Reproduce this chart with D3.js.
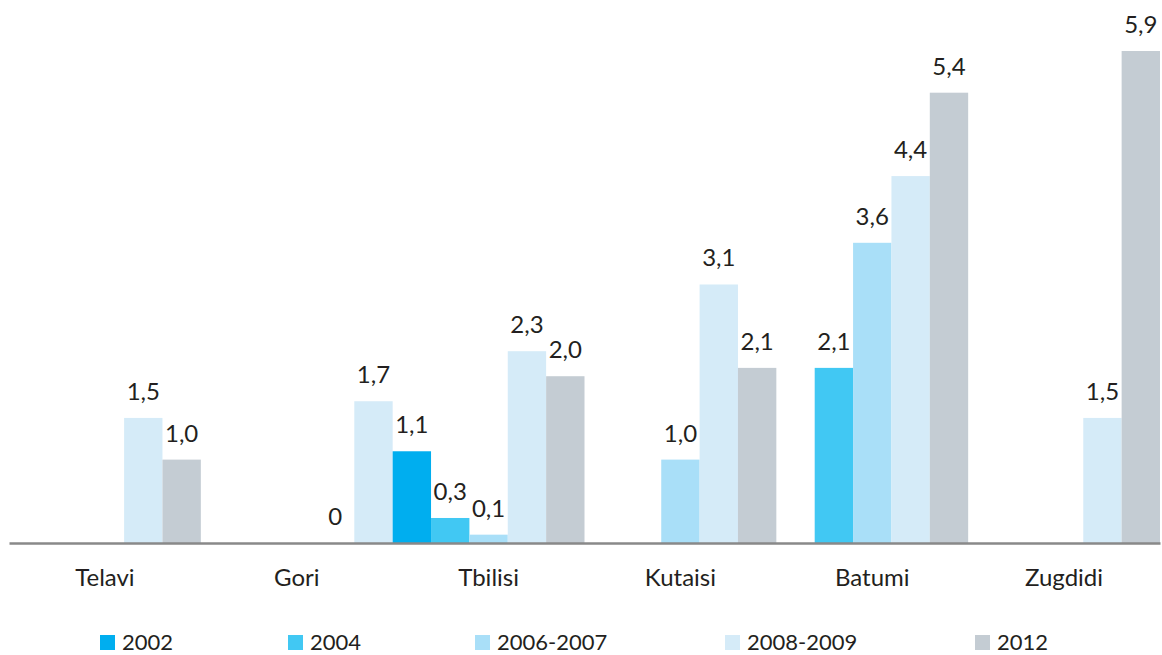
<!DOCTYPE html>
<html>
<head>
<meta charset="utf-8">
<script src="https://cdn.jsdelivr.net/npm/d3@7"></script>
<style>
  html, body { margin: 0; padding: 0; background: #fff; }
  svg { display: block; }
  text { font-family: Lato, "Open Sans", sans-serif; fill: #231f20; }
</style>
</head>
<body>
<svg id="chart"></svg>
<script>
const width = 1162;
const height = 655;

// data (null = no bar)
const cities = ["Telavi", "Gori", "Tbilisi", "Kutaisi", "Batumi", "Zugdidi"];
const years = ["2002", "2004", "2006-2007", "2008-2009", "2012"];
const v2002 = [null, null, 1.1, null, null, null];
const v2004 = [null, null, 0.3, null, 2.1, null];
const v2006 = [null, null, 0.1, 1.0, 3.6, null];
const v2008 = [1.5, 0, 2.3, 3.1, 4.4, 1.5];
const v2012 = [1.0, 1.7, 2.0, 2.1, 5.4, 5.9];
const seriesValues = [v2002, v2004, v2006, v2008, v2012];

const colors = ["#00aeef", "#41c8f3", "#a9dff8", "#d5ebf8", "#c4ccd3"];
// in the source the Gori 2012 bar is painted with the 2008-2009 colour
const colorOverride = {"Gori|2012": "2008-2009"};

const margin = {top: 51, right: 2, bottom: 112, left: 9};
const baseY = height - margin.bottom;

const svg = d3.select("#chart")
    .attr("width", width)
    .attr("height", height);

const x0 = d3.scaleBand()
    .domain(cities)
    .range([margin.left, width - margin.right])
    .padding(0);

const x1 = d3.scaleBand()
    .domain(years)
    .range([0, x0.bandwidth()])
    .padding(0);

const maxV = d3.max(seriesValues.flat());
const y = d3.scaleLinear()
    .domain([0, maxV])
    .range([baseY, margin.top]);

const fmt = v => v === 0 ? "0" : v.toFixed(1).replace(".", ",");

const rows = [];
cities.forEach((c, ci) => {
  years.forEach((yr, si) => {
    const v = seriesValues[si][ci];
    if (v !== null) rows.push({city: c, year: yr, value: v});
  });
});

const colorOf = d => {
  const o = colorOverride[d.city + "|" + d.year];
  return colors[years.indexOf(o || d.year)];
};

const groups = svg.append("g").attr("id", "bars");

groups.selectAll("rect")
  .data(rows)
  .enter()
  .append("rect")
    .attr("x", d => x0(d.city) + x1(d.year))
    .attr("y", d => y(d.value))
    .attr("width", x1.bandwidth())
    .attr("height", d => baseY - y(d.value))
    .attr("fill", colorOf);

groups.selectAll("text")
  .data(rows)
  .enter()
  .append("text")
    .attr("x", d => x0(d.city) + x1(d.year) + x1.bandwidth() / 2)
    .attr("y", d => y(d.value) - 18)
    .attr("text-anchor", "middle")
    .attr("font-size", "24px")
    .text(d => fmt(d.value));

// category axis: plain line with labels, no ticks
const xAxis = g => g
    .attr("transform", `translate(0,${baseY})`)
    .call(d3.axisBottom(x0).tickSize(0).tickPadding(26))
    .call(g => g.select(".domain").attr("stroke", "#898989").attr("stroke-width", 2.5))
    .call(g => g.selectAll("text")
        .attr("font-size", "24px")
        .attr("font-family", "Lato, 'Open Sans', sans-serif")
        .attr("fill", "#231f20"));

svg.append("g").attr("id", "xAxis").call(xAxis);

// legend: swatch positions as in the source layout
const legendX = [100, 288, 475, 725, 975];
const legend = svg.append("g").attr("id", "legend");
years.forEach((yr, i) => {
  const item = legend.append("g").attr("transform", `translate(${legendX[i]},635)`);
  item.append("rect")
    .attr("width", 15)
    .attr("height", 15)
    .attr("fill", colors[i]);
  item.append("text")
    .attr("x", 22)
    .attr("y", 15)
    .attr("font-size", "22px")
    .text(yr);
});
</script>
</body>
</html>
